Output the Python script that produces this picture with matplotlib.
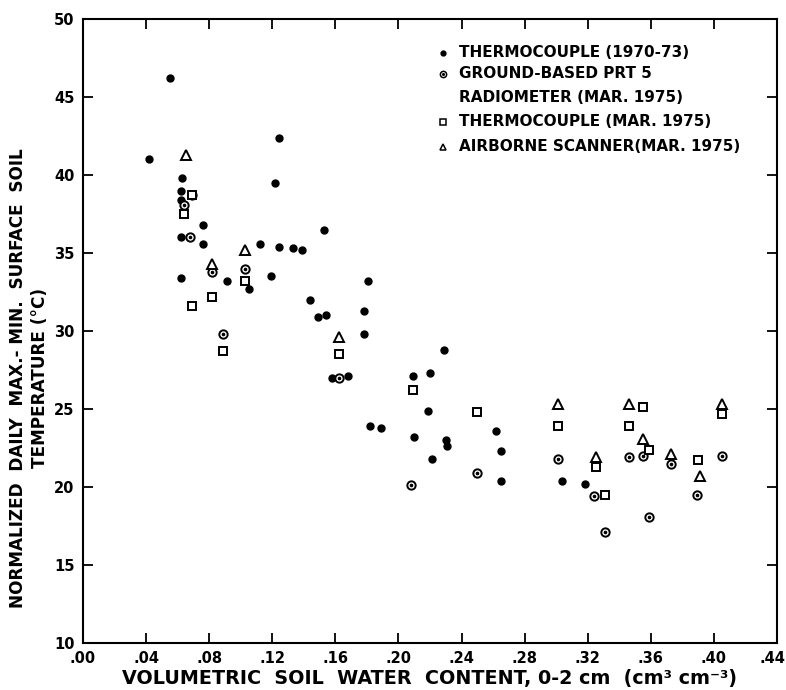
"""
Soil surface temperature amplitude vs. volumetric soil water content (0-2 cm).
"""
import matplotlib
matplotlib.use('Agg')
import matplotlib.pyplot as plt
from matplotlib.transforms import offset_copy

plt.rcParams['font.family'] = ['DejaVu Sans']

# --- data ------------------------------------------------------------------
# Thermocouple (1970-73), filled dots
tc_old_x = [0.042, 0.055, 0.063, 0.062, 0.062, 0.062, 0.062, 0.076, 0.076, 0.091,
            0.105, 0.112, 0.119, 0.122, 0.124, 0.124, 0.133, 0.139, 0.144, 0.149,
            0.154, 0.153, 0.158, 0.168, 0.178, 0.178, 0.181, 0.182, 0.189, 0.209,
            0.210, 0.220, 0.219, 0.221, 0.229, 0.230, 0.231, 0.262, 0.265, 0.265,
            0.304, 0.318]
tc_old_y = [41.0, 46.2, 39.8, 39.0, 38.4, 36.0, 33.4, 36.8, 35.6, 33.2,
            32.7, 35.6, 33.5, 39.5, 42.4, 35.4, 35.3, 35.2, 32.0, 30.9,
            31.0, 36.5, 27.0, 27.1, 31.3, 29.8, 33.2, 23.9, 23.8, 27.1,
            23.2, 27.3, 24.9, 21.8, 28.8, 23.0, 22.6, 23.6, 22.3, 20.4,
            20.4, 20.2]

# Ground-based PRT 5 radiometer (Mar. 1975), circle with centre dot
prt_x = [0.064, 0.069, 0.068, 0.082, 0.103, 0.089, 0.162, 0.208, 0.250, 0.301,
         0.324, 0.331, 0.346, 0.355, 0.359, 0.373, 0.389, 0.405]
prt_y = [38.1, 38.7, 36.0, 33.8, 34.0, 29.8, 27.0, 20.1, 20.9, 21.8,
         19.4, 17.1, 21.9, 22.0, 18.1, 21.5, 19.5, 22.0]

# Thermocouple (Mar. 1975), open squares
tc_new_x = [0.069, 0.064, 0.082, 0.069, 0.089, 0.103, 0.162, 0.209, 0.250, 0.301,
            0.325, 0.331, 0.346, 0.355, 0.359, 0.390, 0.405]
tc_new_y = [38.7, 37.5, 32.2, 31.6, 28.7, 33.2, 28.5, 26.2, 24.8, 23.9,
            21.3, 19.5, 23.9, 25.1, 22.4, 21.7, 24.7]

# Airborne scanner (Mar. 1975), open triangles
scan_x = [0.065, 0.082, 0.103, 0.162, 0.301, 0.325, 0.346, 0.355, 0.373, 0.391, 0.405]
scan_y = [41.3, 34.3, 35.2, 29.6, 25.3, 21.9, 25.3, 23.1, 22.1, 20.7, 25.3]

legend_labels = ['THERMOCOUPLE (1970-73)',
                 'GROUND-BASED PRT 5\nRADIOMETER (MAR. 1975)',
                 'THERMOCOUPLE (MAR. 1975)',
                 'AIRBORNE SCANNER(MAR. 1975)']

x_ticks = [0.00, 0.04, 0.08, 0.12, 0.16, 0.20, 0.24, 0.28, 0.32, 0.36, 0.40, 0.44]
y_ticks = [10, 15, 20, 25, 30, 35, 40, 45, 50]

# --- figure -----------------------------------------------------------------
fig = plt.figure(figsize=(7.86, 6.9), dpi=100)
ax = fig.add_axes([0.1056, 0.0681, 0.8829, 0.9044])

ax.plot(tc_old_x, tc_old_y, 'o', ms=5, mfc='black', mec='black', ls='none')
ax.plot(prt_x, prt_y, 'o', ms=6, mfc='white', mec='black', mew=1.4, ls='none')
ax.plot(prt_x, prt_y, 'o', ms=1.6, mfc='black', mec='black', ls='none')
ax.plot(tc_new_x, tc_new_y, 's', ms=5.5, mfc='white', mec='black', mew=1.4, ls='none')
ax.plot(scan_x, scan_y, '^', ms=6.5, mfc='white', mec='black', mew=1.4, ls='none')

ax.set_xlim(0.0, 0.44)
ax.set_ylim(10, 50)
ax.set_xticks(x_ticks)
ax.set_xticklabels(['.%02d' % round(v * 100) for v in x_ticks])
ax.set_yticks(y_ticks)
ax.set_yticklabels([str(v) for v in y_ticks])

for s in ax.spines.values():
    s.set_linewidth(1.5)
ax.tick_params(direction='in', length=7, width=1.3, top=True, right=True,
               labelsize=10.5, pad=6)
for lab in ax.get_xticklabels() + ax.get_yticklabels():
    lab.set_fontweight('bold')

# last x label sits just inside the figure edge in the reference
fig.canvas.draw()
last = ax.get_xticklabels()[-1]
last.set_transform(offset_copy(last.get_transform(), fig=fig, x=-5, units='dots'))

ax.set_xlabel('VOLUMETRIC  SOIL  WATER  CONTENT, 0-2 cm  (cm³ cm⁻³)',
              fontsize=13.8, fontweight='bold', labelpad=2)
fig.text(0.037, 0.452, 'NORMALIZED  DAILY  MAX.- MIN.  SURFACE  SOIL\nTEMPERATURE (°C)',
         rotation=90, ha='center', va='center', fontsize=12.2, fontweight='bold',
         linespacing=1.3)

# --- hand-drawn style legend (marker on first line of each entry) -------------
leg_x_marker = 0.519
leg_x_text = 0.542
line_rows = [0.9455, 0.912, 0.874, 0.835, 0.795]
first_line = [0, 1, 3, 4]

marker_styles = [dict(marker='o', ms=3.5, mfc='black', mec='black'),
                 dict(marker='o', ms=4.5, mfc='white', mec='black', mew=1.1),
                 dict(marker='s', ms=4, mfc='white', mec='black', mew=1.1),
                 dict(marker='^', ms=4.5, mfc='white', mec='black', mew=1.1)]
for idx, style in zip(first_line, marker_styles):
    ax.plot(leg_x_marker, line_rows[idx], ls='none', transform=ax.transAxes,
            clip_on=False, **style)
ax.plot(leg_x_marker, line_rows[1], 'o', ms=1.2, mfc='black', mec='black',
        transform=ax.transAxes, clip_on=False)

legend_lines = [ln for lab in legend_labels for ln in lab.split('\n')]
for yy, ln in zip(line_rows, legend_lines):
    ax.text(leg_x_text, yy, ln, transform=ax.transAxes, ha='left', va='center',
            fontsize=11, fontweight='bold')

fig.savefig('out.png', dpi=100)
